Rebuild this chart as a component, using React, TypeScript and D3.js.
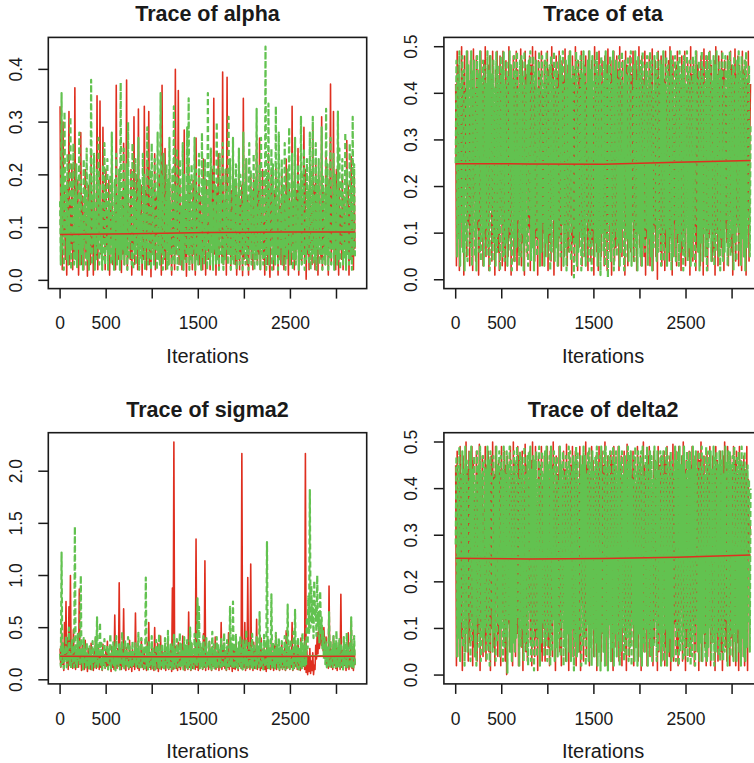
import * as d3 from "d3";

const W = 754;
const H = 763;

// MCMC iterations per chain, knots for the lowess curves, labelled x ticks
const N_ITER = 3200;
const smoothIters = [0, 800, 1600, 2400, 3200];
const xLabelled = [0, 500, 1500, 2500];

// Chain 1 (red, solid) and chain 2 (green, dashed), every ~8 iterations
const alphaRed = [
  .33,.05,.14,.02,.30,.09,.17,.04,.12,.01,.2,.07,.32,.03,.15,.06,.22,.02,.1,.05,
  .365,.04,.13,.08,.19,.01,.11,.06,.28,.03,.16,.09,.02,.14,.21,.05,.12,.008,.18,.07,
  .1,.03,.24,.06,.15,.01,.2,.08,.13,.04,.35,.02,.17,.09,.34,.05,.11,.03,.29,.07,
  .16,.02,.21,.06,.12,.04,.19,.01,.14,.08,.23,.03,.1,.05,.17,.02,.37,.06,.13,.04,
  .2,.07,.11,.015,.16,.05,.26,.03,.12,.06,.38,.02,.18,.09,.14,.04,.21,.01,.1,.06,
  .31,.03,.15,.07,.2,.02,.325,.05,.13,.08,.18,.01,.11,.04,.33,.06,.17,.02,.22,.09,
  .32,.03,.14,.007,.19,.06,.1,.04,.24,.02,.16,.08,.12,.05,.2,.03,.15,.01,.37,.06,
  .12,.04,.25,.02,.17,.07,.11,.03,.21,.05,.09,.01,.18,.06,.14,.02,.40,.05,.13,.08,
  .36,.03,.19,.06,.11,.02,.2,.05,.285,.04,.15,.008,.13,.07,.22,.03,.17,.06,.1,.02,
  .19,.05,.14,.01,.27,.04,.12,.07,.2,.03,.16,.06,.11,.02,.23,.05,.15,.01,.19,.08,
  .12,.04,.18,.02,.14,.07,.21,.03,.345,.05,.13,.01,.17,.06,.24,.02,.11,.08,.16,.04,
  .395,.03,.15,.06,.21,.01,.385,.05,.12,.07,.2,.02,.17,.04,.24,.06,.13,.03,.19,.01,
  .11,.06,.22,.02,.15,.05,.18,.009,.345,.04,.12,.07,.23,.03,.16,.01,.1,.06,.2,.04,
  .14,.02,.19,.07,.12,.04,.26,.03,.17,.05,.27,.02,.13,.08,.21,.04,.11,.01,.18,.06,
  .15,.03,.24,.05,.006,.13,.2,.07,.1,.02,.17,.04,.22,.06,.12,.01,.19,.05,.14,.03,
  .21,.06,.11,.02,.16,.04,.23,.07,.13,.01,.18,.05,.12,.03,.33,.06,.15,.02,.2,.04,
  .17,.07,.25,.01,.12,.05,.19,.03,.14,.06,.29,.04,.21,.002,.11,.05,.16,.02,.22,.07,
  .13,.03,.29,.06,.18,.02,.23,.05,.15,.01,.2,.08,.12,.04,.31,.02,.17,.06,.11,.03,
  .24,.05,.14,.01,.19,.07,.372,.03,.16,.06,.32,.04,.12,.02,.21,.05,.15,.01,.18,.07,
  .13,.04,.2,.02,.16,.06,.11,.03,.265,.05,.18,.01,.14,.07,.235,.04,.12,.02,.21,.06,
];
const alphaGreen = [
  .15,.03,.355,.06,.21,.02,.32,.08,.18,.04,.24,.03,.13,.05,.31,.02,.19,.07,.26,.03,
  .16,.04,.22,.025,.14,.06,.28,.03,.19,.05,.12,.02,.23,.07,.17,.03,.25,.04,.15,.02,
  .2,.05,.38,.03,.16,.07,.24,.02,.13,.04,.21,.06,.27,.03,.18,.05,.14,.02,.22,.04,
  .26,.03,.17,.06,.23,.02,.15,.05,.2,.03,.28,.04,.12,.02,.19,.06,.24,.03,.16,.05,
  .21,.02,.375,.04,.14,.06,.25,.03,.18,.05,.22,.02,.3,.04,.13,.07,.2,.03,.26,.02,
  .17,.05,.23,.03,.15,.06,.27,.02,.19,.04,.12,.03,.24,.05,.2,.02,.16,.06,.29,.03,
  .14,.04,.21,.02,.26,.05,.18,.03,.23,.06,.13,.02,.28,.04,.17,.03,.355,.05,.2,.02,
  .24,.04,.15,.06,.22,.02,.19,.03,.27,.05,.14,.02,.21,.04,.33,.03,.17,.06,.25,.02,
  .18,.05,.23,.03,.13,.04,.26,.02,.2,.06,.16,.03,.29,.05,.345,.02,.19,.04,.22,.03,
  .15,.06,.27,.02,.21,.04,.17,.03,.24,.05,.12,.02,.28,.04,.19,.03,.23,.06,.16,.02,
  .355,.04,.2,.03,.25,.05,.14,.02,.22,.06,.18,.03,.3,.04,.16,.02,.24,.05,.19,.03,
  .26,.02,.15,.04,.21,.06,.17,.03,.31,.05,.23,.02,.13,.04,.27,.03,.19,.05,.22,.02,
  .16,.04,.25,.03,.2,.06,.14,.02,.28,.05,.18,.03,.23,.04,.15,.02,.26,.06,.21,.03,
  .17,.05,.24,.02,.19,.04,.325,.03,.14,.06,.22,.02,.27,.05,.16,.03,.21,.04,.443,.02,
  .2,.05,.335,.03,.17,.06,.25,.02,.22,.04,.15,.03,.33,.05,.19,.02,.28,.04,.13,.06,
  .23,.03,.18,.05,.26,.02,.16,.04,.21,.06,.29,.03,.14,.05,.24,.02,.19,.04,.27,.03,
  .15,.06,.22,.02,.18,.04,.31,.03,.2,.05,.25,.02,.13,.04,.23,.06,.17,.03,.28,.02,
  .21,.05,.31,.03,.16,.04,.26,.02,.19,.06,.23,.03,.14,.05,.29,.02,.2,.04,.17,.03,
  .325,.05,.22,.02,.18,.04,.27,.03,.15,.06,.24,.02,.2,.05,.17,.03,.32,.04,.25,.02,
  .19,.06,.23,.03,.16,.04,.28,.02,.21,.05,.14,.03,.26,.04,.18,.02,.31,.05,.22,.04,
];
const alphaRedSmooth = [.0867, .0885, .0905, .0915, .0917];
const alphaGreenSmooth = [.089, .09, .091, .092, .0925];

const etaRed = [
  .42,.03,.49,.1,.46,.02,.38,.07,.5,.15,.44,.01,.48,.2,.41,.05,.49,.12,.36,.03,
  .47,.08,.43,.02,.495,.17,.4,.04,.48,.11,.45,.01,.33,.06,.49,.14,.42,.03,.47,.09,
  .5,.05,.39,.13,.46,.02,.48,.18,.43,.04,.49,.08,.37,.01,.45,.11,.49,.06,.41,.02,
  .48,.15,.44,.03,.49,.07,.35,.02,.47,.12,.42,.05,.5,.09,.46,.01,.4,.16,.48,.04,
  .43,.1,.49,.02,.45,.06,.38,.14,.495,.03,.47,.08,.41,.01,.49,.19,.44,.05,.36,.11,
  .48,.02,.46,.07,.5,.13,.42,.04,.49,.09,.39,.01,.47,.16,.44,.06,.49,.03,.4,.1,
  .47,.05,.43,.12,.49,.02,.45,.08,.37,.04,.5,.14,.46,.01,.41,.07,.48,.11,.44,.03,
  .49,.09,.4,.02,.47,.15,.43,.05,.495,.1,.38,.03,.46,.06,.49,.13,.42,.01,.48,.08,
  .45,.04,.5,.17,.41,.02,.47,.07,.44,.12,.49,.03,.36,.09,.46,.05,.48,.14,.42,.02,
  .49,.1,.44,.04,.47,.08,.39,.01,.5,.16,.45,.06,.43,.02,.49,.11,.41,.05,.47,.13,
  .42,.03,.48,.09,.46,.02,.495,.14,.4,.06,.47,.01,.44,.1,.49,.04,.37,.07,.48,.12,
  .45,.02,.5,.08,.43,.05,.47,.15,.41,.01,.49,.11,.46,.03,.38,.09,.48,.06,.44,.13,
  .49,.04,.42,.1,.47,.02,.45,.16,.5,.07,.4,.03,.48,.12,.43,.05,.49,.01,.46,.09,
  .41,.14,.48,.03,.44,.08,.495,.02,.39,.11,.47,.05,.45,.001,.49,.13,.42,.06,.48,.03,
  .46,.1,.43,.02,.49,.07,.4,.15,.47,.04,.5,.09,.44,.01,.48,.12,.37,.05,.46,.03,
  .49,.08,.45,.13,.42,.02,.48,.06,.44,.1,.49,.03,.41,.14,.47,.05,.43,.01,.5,.09,
  .44,.04,.47,.11,.39,.02,.49,.07,.46,.15,.42,.03,.48,.08,.45,.01,.495,.12,.4,.05,
  .48,.02,.43,.09,.49,.13,.46,.04,.41,.06,.47,.01,.5,.1,.44,.03,.48,.16,.42,.07,
  .49,.05,.45,.02,.47,.11,.4,.08,.48,.03,.43,.14,.49,.06,.46,.01,.42,.09,.495,.04,
  .44,.12,.48,.03,.46,.07,.41,.02,.49,.1,.45,.05,.47,.01,.43,.15,.49,.04,.3,.42,
];
const etaGreen = [
  .25,.47,.05,.44,.09,.49,.03,.42,.12,.48,.06,.45,.02,.4,.08,.49,.04,.46,.14,.43,
  .07,.49,.03,.45,.1,.47,.05,.41,.02,.48,.13,.44,.06,.49,.04,.43,.09,.47,.03,.46,
  .11,.42,.05,.49,.07,.45,.02,.48,.15,.44,.04,.47,.08,.41,.03,.49,.06,.46,.1,.43,
  .02,.48,.12,.45,.05,.49,.04,.42,.08,.47,.03,.44,.11,.49,.06,.46,.02,.43,.09,.48,
  .04,.45,.07,.49,.13,.41,.03,.47,.05,.48,.1,.44,.02,.49,.08,.42,.06,.46,.03,.47,
  .14,.49,.04,.43,.07,.48,.02,.45,.11,.47,.05,.41,.09,.49,.03,.44,.06,.48,.12,.42,
  .03,.47,.08,.49,.05,.44,.1,.46,.02,.48,.06,.43,.13,.49,.04,.45,.07,.47,.03,.41,
  .09,.48,.05,.46,.12,.49,.03,.42,.07,.47,.02,.44,.1,.48,.06,.49,.04,.43,.11,.46,
  .005,.45,.08,.49,.03,.47,.06,.41,.1,.48,.02,.44,.05,.49,.09,.46,.03,.42,.12,.47,
  .04,.49,.07,.45,.02,.48,.11,.43,.05,.47,.08,.49,.03,.44,.06,.46,.01,.48,.1,.42,
  .06,.47,.03,.49,.09,.44,.005,.46,.12,.48,.04,.42,.07,.49,.02,.45,.1,.47,.05,.43,
  .08,.48,.03,.45,.06,.49,.11,.42,.02,.47,.05,.44,.09,.48,.04,.46,.07,.49,.03,.41,
  .12,.46,.04,.49,.07,.43,.02,.48,.1,.45,.05,.47,.03,.49,.08,.42,.06,.46,.11,.48,
  .03,.44,.09,.49,.05,.47,.02,.41,.07,.48,.12,.45,.04,.49,.06,.43,.1,.47,.03,.46,
  .07,.49,.04,.42,.11,.48,.03,.46,.06,.44,.09,.49,.02,.47,.05,.43,.13,.48,.04,.45,
  .1,.47,.03,.49,.06,.44,.08,.46,.02,.48,.05,.42,.11,.49,.04,.45,.07,.47,.03,.43,
  .05,.48,.09,.45,.03,.49,.12,.43,.06,.47,.02,.44,.08,.49,.04,.46,.1,.42,.05,.48,
  .02,.45,.07,.49,.11,.47,.04,.43,.08,.48,.03,.46,.06,.49,.1,.44,.05,.47,.02,.45,
  .09,.49,.04,.42,.06,.48,.13,.45,.03,.47,.07,.49,.05,.44,.1,.46,.02,.48,.08,.43,
  .04,.47,.11,.49,.06,.45,.03,.48,.09,.44,.05,.47,.02,.49,.07,.43,.12,.46,.05,.33,
];
const etaRedSmooth = [.249, .2485, .248, .252, .256];
const etaGreenSmooth = [.252, .251, .25, .253, .255];

const sigma2Red = [
  .3,.12,.45,.15,.22,.09,.55,.2,.75,.13,.4,.1,.7,.25,1.0,.16,.35,.11,.48,.14,
  .3,.1,.28,.17,.42,.12,.87,.15,.26,.09,.33,.13,.22,.1,.38,.14,.19,.08,.3,.12,
  .24,.1,.35,.15,.2,.09,.28,.13,.4,.11,.23,.16,.31,.1,.27,.12,.19,.09,.34,.14,
  .21,.11,.29,.13,.37,.1,.25,.15,.2,.08,.32,.12,.26,.1,.62,.14,.22,.11,.3,.13,
  .93,.12,.27,.1,.35,.15,.68,.11,.24,.09,.31,.14,.2,.1,.38,.12,.26,.08,.29,.13,
  .22,.1,.64,.14,.27,.11,.33,.09,.21,.13,.4,.12,.25,.1,.3,.15,.19,.09,.36,.11,
  .55,.12,.26,.1,.31,.14,.22,.09,.5,.13,.28,.11,.35,.08,.23,.12,.42,.1,.27,.14,
  .2,.11,.33,.09,.26,.13,.38,.1,.24,.12,.3,.08,.88,.1,2.28,.13,.32,.11,.25,.09,
  .36,.12,.21,.1,.29,.14,.42,.11,.27,.09,.33,.13,.24,.1,.65,.12,.28,.09,.35,.11,
  .23,.13,.3,.1,1.35,.12,.26,.09,.38,.11,.22,.14,.31,.1,.44,.12,1.14,.09,.28,.13,
  .24,.1,.37,.12,.2,.09,.32,.13,.27,.11,.41,.1,.25,.14,.3,.09,.22,.12,.55,.1,
  .29,.13,.35,.11,.24,.09,.31,.12,.45,.1,.26,.13,.2,.08,.33,.11,.28,.1,.39,.12,
  .23,.09,.3,.13,.26,.11,2.17,.1,.34,.12,.55,.09,.27,.11,.98,.13,.3,.1,1.11,.12,
  .25,.09,.36,.11,.29,.13,.58,.1,.24,.12,.32,.09,.4,.11,.22,.13,.3,.1,.27,.08,
  .35,.11,.21,.13,.29,.1,.38,.12,.25,.09,.33,.11,.43,.1,.24,.13,.3,.09,.27,.12,
  .36,.1,.23,.12,.31,.09,.47,.11,.26,.13,.32,.1,.2,.12,.55,.09,.28,.11,.34,.13,
  .25,.1,.37,.12,.29,.09,.4,.11,.24,.13,.33,.1,2.17,.07,.28,.05,.22,.08,.3,.06,
  .18,.09,.26,.05,.14,.1,.33,.2,.45,.25,.52,.3,.38,.55,.33,.48,.28,.5,.35,.26,
  .41,.13,.3,.11,.9,.15,.36,.12,.27,.1,.42,.14,.25,.11,.33,.09,.29,.13,.38,.1,
  .82,.12,.28,.1,.35,.14,.24,.09,.31,.12,.45,.1,.27,.13,.55,.11,.22,.09,.33,.14,
];
const sigma2Green = [
  .25,.13,1.22,.16,.35,.11,.28,.2,.42,.12,.3,.18,.5,.14,.26,.1,.38,.15,.33,.12,
  1.47,.16,.29,.11,.44,.19,.35,.13,1.0,.15,.27,.1,.4,.17,.31,.12,.36,.14,.24,.11,
  .32,.15,.28,.1,.37,.16,.25,.12,.41,.14,.6,.11,.3,.17,.55,.13,.35,.1,.27,.15,
  .39,.12,.24,.16,.33,.1,.29,.14,.44,.11,.26,.15,.36,.12,.31,.09,.42,.14,.27,.12,
  .34,.1,.3,.16,.46,.13,.25,.11,.38,.15,.29,.12,.41,.1,.32,.14,.27,.11,.37,.13,
  .23,.15,.35,.11,.3,.14,.45,.12,.26,.1,.4,.16,.28,.12,.33,.11,.98,.14,.31,.1,
  .36,.13,.27,.15,.42,.11,.3,.14,.25,.1,.38,.16,.32,.12,.44,.11,.29,.14,.35,.12,
  .26,.1,.4,.15,.31,.12,.47,.11,.28,.14,.36,.09,.33,.13,.43,.11,.27,.15,.39,.12,
  .3,.14,.45,.11,.34,.13,.27,.1,.41,.15,.32,.12,.38,.11,.29,.14,.5,.1,.35,.13,
  .28,.11,.44,.14,.31,.12,.78,.15,.7,.11,.36,.13,.29,.1,.42,.14,.33,.12,.4,.11,
  .27,.15,.37,.12,.31,.1,.46,.14,.34,.11,.29,.13,.41,.1,.35,.15,.28,.12,.39,.11,
  .32,.14,.45,.12,.3,.1,.38,.13,.27,.11,.7,.15,.35,.12,.75,.1,.31,.14,.43,.12,
  .29,.11,.36,.15,.42,.12,.3,.1,.39,.14,.33,.11,.48,.13,.28,.1,.37,.15,.31,.12,
  .44,.11,.35,.14,.28,.1,.41,.13,.32,.12,.65,.11,.37,.14,.29,.1,.43,.12,.34,.13,
  1.32,.12,.38,.11,.3,.14,.82,.1,.36,.13,.29,.11,.45,.15,.33,.12,.4,.1,.31,.14,
  .37,.11,.28,.13,.42,.1,.35,.14,.72,.12,.31,.11,.39,.13,.3,.1,.46,.12,.67,.14,
  .33,.12,.41,.1,.29,.13,.36,.11,.45,.14,.32,.12,.38,.15,.6,.3,.8,.45,1.82,.5,
  .9,.55,.75,.4,.95,.6,.7,.42,1.0,.5,.65,.35,.85,.45,.6,.3,.48,.2,.4,.15,
  .36,.12,.31,.14,.65,.11,.38,.13,.29,.1,.42,.14,.34,.12,.47,.11,.3,.13,.39,.12,
  .35,.14,.28,.1,.41,.13,.33,.11,.45,.12,.3,.15,.37,.11,.6,.13,.32,.1,.42,.14,
];
const sigma2RedSmooth = [.225, .222, .222, .224, .226];
const sigma2GreenSmooth = [.23, .228, .227, .229, .232];

const delta2Red = [
  .45,.02,.48,.13,.4,.04,.49,.08,.43,.01,.47,.17,.39,.05,.5,.1,.44,.03,.48,.07,
  .41,.12,.49,.02,.46,.06,.38,.15,.48,.03,.44,.09,.495,.01,.42,.11,.47,.04,.36,.08,
  .49,.03,.45,.14,.48,.05,.41,.01,.47,.1,.5,.06,.43,.02,.49,.16,.4,.04,.46,.09,
  .44,.02,.49,.12,.42,.07,.48,.03,.45,.001,.47,.11,.39,.05,.49,.08,.43,.02,.5,.14,
  .46,.04,.41,.09,.49,.02,.47,.13,.44,.06,.48,.01,.4,.1,.495,.05,.45,.03,.42,.15,
  .48,.07,.46,.02,.5,.11,.43,.04,.49,.08,.37,.01,.47,.13,.45,.05,.49,.03,.41,.1,
  .47,.03,.44,.16,.49,.06,.42,.02,.48,.09,.45,.04,.5,.12,.4,.01,.47,.07,.43,.11,
  .49,.05,.46,.02,.41,.14,.48,.08,.44,.03,.495,.1,.42,.01,.47,.06,.45,.13,.49,.04,
  .43,.09,.48,.02,.46,.12,.4,.05,.49,.01,.44,.15,.47,.03,.42,.08,.5,.04,.45,.11,
  .48,.02,.43,.07,.49,.13,.46,.04,.41,.1,.47,.01,.44,.06,.49,.16,.42,.03,.48,.09,
  .45,.05,.5,.11,.43,.02,.47,.08,.39,.14,.48,.03,.46,.01,.49,.1,.44,.06,.41,.12,
  .49,.03,.45,.09,.47,.02,.42,.15,.48,.05,.44,.01,.495,.11,.4,.04,.47,.07,.43,.13,
  .48,.02,.46,.1,.41,.06,.49,.03,.44,.12,.47,.01,.43,.08,.5,.05,.45,.14,.42,.02,
  .47,.09,.49,.04,.44,.11,.4,.02,.48,.07,.46,.13,.42,.01,.49,.05,.45,.1,.47,.03,
  .43,.15,.48,.02,.46,.06,.49,.12,.41,.04,.47,.01,.44,.09,.495,.03,.42,.11,.48,.05,
  .45,.02,.49,.08,.43,.14,.47,.03,.5,.1,.44,.01,.46,.06,.41,.12,.48,.04,.45,.07,
  .49,.11,.42,.02,.47,.05,.44,.13,.48,.01,.46,.08,.5,.03,.43,.1,.47,.06,.41,.02,
  .48,.04,.45,.12,.49,.02,.43,.07,.47,.15,.44,.01,.49,.09,.46,.03,.42,.11,.48,.05,
  .44,.01,.47,.1,.5,.06,.45,.03,.49,.13,.42,.02,.47,.08,.44,.04,.49,.12,.46,.02,
  .48,.07,.43,.01,.49,.11,.46,.04,.45,.09,.47,.02,.44,.13,.49,.01,.42,.25,.33,.3,
];
const delta2Green = [
  .28,.47,.04,.45,.08,.49,.03,.43,.11,.48,.06,.44,.02,.49,.09,.46,.05,.42,.13,.48,
  .03,.49,.07,.44,.1,.47,.04,.42,.02,.48,.12,.45,.06,.49,.03,.43,.08,.47,.05,.46,
  .1,.44,.03,.49,.06,.46,.02,.48,.14,.43,.05,.47,.09,.42,.03,.49,.07,.45,.11,.48,
  .04,.47,.1,.44,.03,.49,.06,.43,.08,.48,.005,.45,.12,.49,.05,.46,.03,.44,.07,.48,
  .05,.46,.08,.49,.12,.42,.02,.48,.06,.47,.1,.45,.03,.49,.07,.43,.05,.47,.02,.48,
  .13,.49,.03,.44,.06,.47,.01,.46,.1,.48,.04,.42,.08,.49,.02,.45,.07,.48,.11,.43,
  .04,.48,.07,.49,.03,.45,.09,.47,.02,.49,.05,.44,.12,.48,.03,.46,.06,.47,.04,.42,
  .08,.49,.04,.45,.11,.48,.02,.43,.06,.47,.03,.45,.09,.49,.05,.48,.03,.44,.1,.47,
  .01,.46,.07,.49,.04,.48,.05,.42,.09,.47,.02,.45,.06,.49,.08,.47,.02,.43,.11,.48,
  .03,.49,.06,.46,.02,.48,.1,.44,.04,.47,.07,.49,.02,.45,.05,.47,.01,.49,.09,.43,
  .05,.48,.02,.49,.08,.45,.01,.47,.11,.48,.03,.43,.06,.49,.02,.46,.09,.48,.04,.44,
  .07,.49,.02,.46,.05,.48,.1,.43,.03,.47,.04,.45,.08,.49,.03,.47,.06,.48,.02,.42,
  .11,.47,.03,.49,.06,.44,.02,.48,.09,.46,.04,.48,.02,.49,.07,.43,.05,.47,.1,.49,
  .02,.45,.08,.48,.04,.47,.03,.42,.06,.49,.11,.46,.03,.48,.05,.44,.09,.48,.02,.47,
  .06,.48,.03,.43,.1,.49,.02,.47,.05,.45,.08,.48,.03,.46,.04,.44,.12,.49,.03,.46,
  .09,.48,.02,.49,.05,.45,.07,.47,.03,.49,.04,.43,.1,.48,.03,.46,.06,.48,.02,.44,
  .04,.49,.08,.46,.02,.48,.11,.44,.05,.48,.03,.45,.07,.49,.03,.47,.09,.43,.04,.49,
  .03,.46,.06,.48,.1,.48,.03,.44,.07,.49,.02,.47,.05,.48,.09,.45,.04,.48,.03,.46,
  .08,.48,.03,.43,.05,.49,.12,.46,.02,.48,.06,.48,.04,.45,.09,.47,.03,.49,.07,.44,
  .03,.47,.1,.48,.05,.46,.02,.49,.08,.45,.04,.48,.03,.44,.06,.45,.11,.42,.05,.4,
];
const delta2RedSmooth = [.2504, .249, .25, .253, .2575];
const delta2GreenSmooth = [.253, .252, .251, .254, .256];

const RED = "#DF2F1F";
const GREEN = "#62C250";
const INK = "#1a1a1a";
const FONT = "'Liberation Sans', Arial, Helvetica, sans-serif";

// each figure cell of the 2x2 layout and the plot box inside it
const CELL_W = 395.6;
const CELL_H = 395.3;
const BOX = { left: 48.3, top: 37.4, width: 318.4, height: 251.2 };

interface PanelSpec {
  title: string;
  red: number[];
  green: number[];
  redSmooth: number[];
  greenSmooth: number[];
  col: number;
  row: number;
}

const panels: PanelSpec[] = [
  { title: "Trace of alpha", red: alphaRed, green: alphaGreen, redSmooth: alphaRedSmooth, greenSmooth: alphaGreenSmooth, col: 0, row: 0 },
  { title: "Trace of eta", red: etaRed, green: etaGreen, redSmooth: etaRedSmooth, greenSmooth: etaGreenSmooth, col: 1, row: 0 },
  { title: "Trace of sigma2", red: sigma2Red, green: sigma2Green, redSmooth: sigma2RedSmooth, greenSmooth: sigma2GreenSmooth, col: 0, row: 1 },
  { title: "Trace of delta2", red: delta2Red, green: delta2Green, redSmooth: delta2RedSmooth, greenSmooth: delta2GreenSmooth, col: 1, row: 1 },
];

// R's default axis extension: 4% on each side
const extend = ([lo, hi]: [number, number]): [number, number] => {
  const d = (hi - lo) * 0.04;
  return [lo - d, hi + d];
};

function Panel({ spec, idx }: { spec: PanelSpec; idx: number }) {
  const x0 = spec.col * CELL_W + BOX.left;
  const y0 = spec.row * CELL_H + BOX.top;
  const x1 = x0 + BOX.width;
  const y1 = y0 + BOX.height;
  const cx = (x0 + x1) / 2;

  const x = d3.scaleLinear().domain(extend([0, N_ITER])).range([x0, x1]);
  const ext = d3.extent(spec.red.concat(spec.green)) as [number, number];
  const y = d3.scaleLinear().domain(extend(ext)).range([y1, y0]);

  const trace = (vals: number[]) =>
    d3
      .line<number>()
      .x((_, i) => x((i * N_ITER) / (vals.length - 1)))
      .y((d) => y(d))(vals) ?? "";
  const smooth = d3
    .line<number>()
    .x((_, i) => x(smoothIters[i]))
    .y((d) => y(d));

  const xTicks = x.ticks(7).filter((t) => t >= 0 && t <= N_ITER);
  const yTicks = y.ticks(5);
  const fmt = d3.format(".1f");
  const clipId = `clip-${idx}`;

  return (
    <g>
      <defs>
        <clipPath id={clipId}>
          <rect x={x0} y={y0} width={BOX.width} height={BOX.height} />
        </clipPath>
      </defs>
      <g clipPath={`url(#${clipId})`} fill="none" strokeLinejoin="round">
        <path d={trace(spec.red)} stroke={RED} strokeWidth={1.6} />
        <path d={trace(spec.green)} stroke={GREEN} strokeWidth={2.2} strokeDasharray="6,3" />
        <path d={smooth(spec.greenSmooth) ?? ""} stroke={GREEN} strokeWidth={1.5} />
        <path d={smooth(spec.redSmooth) ?? ""} stroke={RED} strokeWidth={1.5} />
      </g>
      <rect x={x0} y={y0} width={BOX.width} height={BOX.height} fill="none" stroke={INK} strokeWidth={1.6} />

      {xTicks.map((t) => (
        <line key={`xt${t}`} x1={x(t)} x2={x(t)} y1={y1} y2={y1 + 10} stroke={INK} strokeWidth={1.5} />
      ))}
      {xLabelled.map((t) => (
        <text key={`xl${t}`} x={x(t)} y={y1 + 40.7} textAnchor="middle" fontSize={17.5} fill={INK}>
          {t}
        </text>
      ))}
      {yTicks.map((t) => (
        <g key={`yt${t}`}>
          <line x1={x0 - 10} x2={x0} y1={y(t)} y2={y(t)} stroke={INK} strokeWidth={1.5} />
          <text
            transform={`translate(${x0 - 26.8},${y(t)}) rotate(-90)`}
            textAnchor="middle"
            fontSize={17.5}
            fill={INK}
          >
            {fmt(t)}
          </text>
        </g>
      ))}

      <text x={cx} y={y1 + 74} textAnchor="middle" fontSize={20} fill={INK}>
        Iterations
      </text>
      <text x={cx} y={y0 - 16} textAnchor="middle" fontSize={21.5} fontWeight="bold" fill={INK}>
        {spec.title}
      </text>
    </g>
  );
}

export default function App() {
  return (
    <svg
      width={W}
      height={H}
      viewBox={`0 0 ${W} ${H}`}
      style={{ position: "absolute", left: 0, top: 0, background: "#fff" }}
      fontFamily={FONT}
    >
      <rect width={W} height={H} fill="#fff" />
      {panels.map((p, i) => (
        <Panel key={p.title} spec={p} idx={i} />
      ))}
    </svg>
  );
}
